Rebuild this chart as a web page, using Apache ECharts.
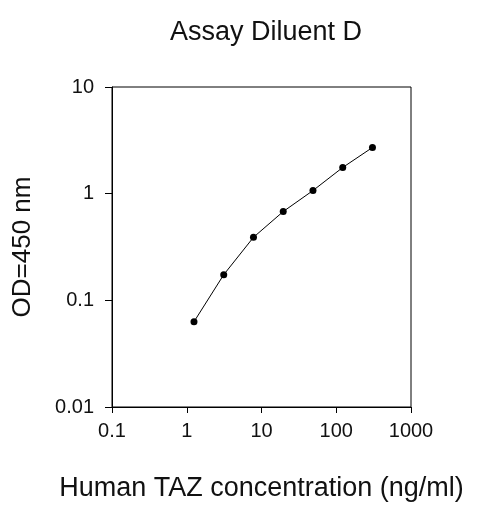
<!DOCTYPE html>
<html lang="en">

<head>
    <meta charset="UTF-8" />
    <title>Assay Diluent D</title>
    <script src="https://cdn.jsdelivr.net/npm/echarts@6/dist/echarts.min.js"></script>
    <style>
        html, body { margin: 0; padding: 0; background: #fff; }
        #chart { width: 478px; height: 508px; }
    </style>
</head>

<body>
    <div id="chart"></div>

    <script type="text/javascript">
        // standard curve values
        let concentrations = [1.25, 3.125, 7.8125, 19.53, 48.83, 122.07, 305.18];
        let odValues = [0.063, 0.174, 0.39, 0.68, 1.07, 1.76, 2.71];

        let xTicks = [0.1, 1, 10, 100, 1000];
        let yTicks = [0.01, 0.1, 1, 10];

        let points = concentrations.map((c, i) => [c, odValues[i]]);

        let myChart = echarts.init(document.getElementById("chart"));

        let font = "Liberation Sans, Arial, sans-serif";

        let option = {
            animation: false,
            title: {
                text: "Assay Diluent D",
                left: 261,
                top: 14,
                textAlign: "center",
                textStyle: { fontFamily: font, fontSize: 27, fontWeight: "normal", color: "#111" },
            },
            grid: {
                left: 112,
                right: 67,
                top: 87,
                bottom: 101,
                show: true,
                borderColor: "#000",
                borderWidth: 1,
            },
            xAxis: {
                type: "log",
                logBase: 10,
                min: 0.1,
                max: 1000,
                name: "Human TAZ concentration (ng/ml)",
                nameLocation: "middle",
                nameGap: 68,
                nameTextStyle: { fontFamily: font, fontSize: 27, color: "#111" },
                axisLine: { lineStyle: { color: "#000", width: 1 } },
                axisTick: { length: 6, lineStyle: { color: "#000" } },
                minorTick: { show: false },
                splitLine: { show: false },
                axisLabel: {
                    margin: 14,
                    fontFamily: font,
                    fontSize: 20,
                    color: "#111",
                    formatter: v => String(xTicks.find(t => Math.abs(t - v) / t < 1e-6) ?? v),
                },
            },
            yAxis: {
                type: "log",
                logBase: 10,
                min: 0.01,
                max: 10,
                name: "OD=450 nm",
                nameLocation: "middle",
                nameGap: 76,
                nameTextStyle: { fontFamily: font, fontSize: 26, color: "#111" },
                axisLine: { lineStyle: { color: "#000", width: 1 } },
                axisTick: { length: 7, lineStyle: { color: "#000" } },
                minorTick: { show: false },
                splitLine: { show: false },
                axisLabel: {
                    margin: 18,
                    fontFamily: font,
                    fontSize: 20,
                    color: "#111",
                    formatter: v => String(yTicks.find(t => Math.abs(t - v) / t < 1e-6) ?? v),
                },
            },
            series: [
                {
                    type: "line",
                    data: points,
                    symbol: "circle",
                    symbolSize: 7,
                    itemStyle: { color: "#000" },
                    lineStyle: { color: "#000", width: 1 },
                },
            ],
        };

        myChart.setOption(option);
    </script>
</body>

</html>
